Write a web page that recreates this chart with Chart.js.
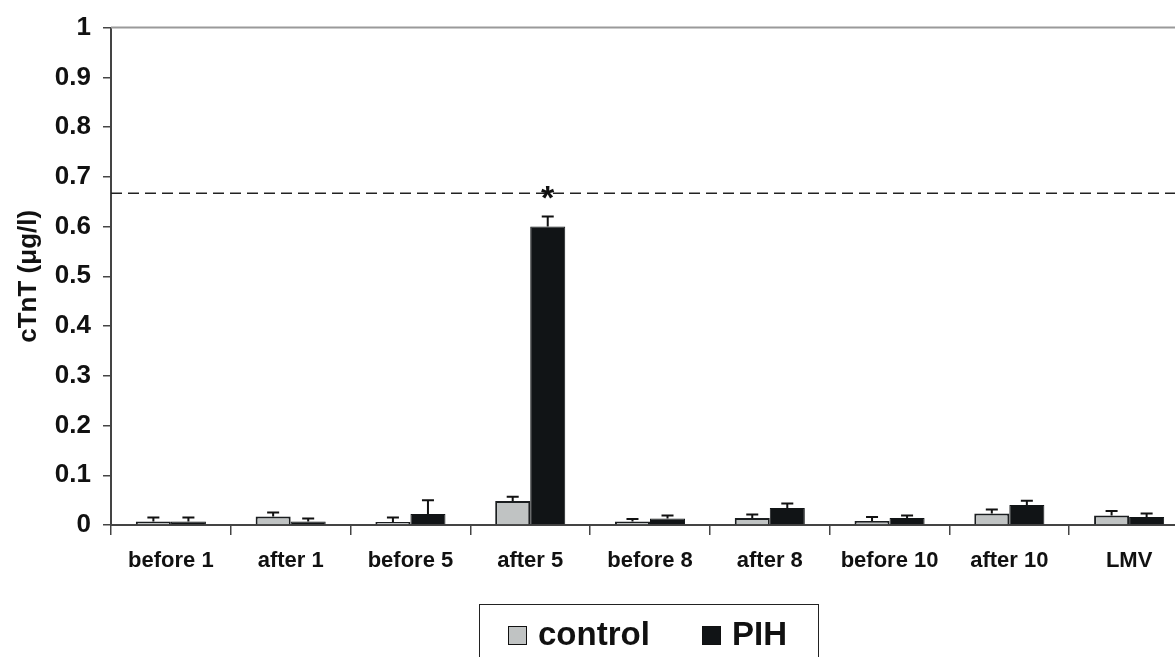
<!DOCTYPE html>
<html>
<head>
<meta charset="utf-8">
<script src="https://cdn.jsdelivr.net/npm/chart.js@4"></script>
<style>
  body { margin: 0; background: #fff; overflow: hidden; }
  #wrap { position: relative; width: 1175px; height: 657px; overflow: hidden; }
  #legend {
    position: absolute; left: 479px; top: 604px; width: 340px; height: 80px;
    border: 1px solid #222; box-sizing: border-box;
    font: bold 33px "Liberation Sans", Arial, sans-serif; color: #111;
  }
  #legend span.item { position: absolute; top: 10px; white-space: nowrap; }
  #legend i { display: inline-block; width: 17px; height: 17px; border: 1px solid #111; margin-right: 11px; vertical-align: 0px; }
</style>
</head>
<body>
<div id="wrap">
  <canvas id="chart" width="1190" height="657"></canvas>
  <div id="legend">
    <span class="item" style="left:28px"><i style="background:#c0c3c3"></i>control</span>
    <span class="item" style="left:222px"><i style="background:#111416"></i>PIH</span>
  </div>
</div>
<script>
// dados
const categorias = ["before 1", "after 1", "before 5", "after 5", "before 8", "after 8", "before 10", "after 10", "LMV"];
const controle = [0.007, 0.017, 0.006, 0.048, 0.007, 0.014, 0.008, 0.023, 0.019];
const controleErro = [0.008, 0.008, 0.009, 0.009, 0.005, 0.007, 0.008, 0.008, 0.009];
const pih = [0.007, 0.007, 0.022, 0.600, 0.013, 0.034, 0.014, 0.040, 0.016];
const pihErro = [0.008, 0.006, 0.028, 0.020, 0.006, 0.009, 0.005, 0.009, 0.007];
const limite = 0.667;

const fonte = '"Liberation Sans", Arial, sans-serif';

// barras de erro, linha tracejada e asterisco
const extras = {
  id: "extras",
  afterDatasetsDraw(chart) {
    const ctx = chart.ctx;
    const y = chart.scales.y;
    const area = chart.chartArea;
    ctx.save();

    // borda de cima
    ctx.strokeStyle = "#9a9a9a";
    ctx.lineWidth = 2;
    ctx.beginPath();
    ctx.moveTo(area.left, area.top);
    ctx.lineTo(chart.width, area.top);
    ctx.stroke();

    // linha tracejada
    const yl = y.getPixelForValue(limite);
    ctx.strokeStyle = "#222";
    ctx.lineWidth = 1.6;
    ctx.setLineDash([11, 6]);
    ctx.beginPath();
    ctx.moveTo(area.left, yl);
    ctx.lineTo(chart.width, yl);
    ctx.stroke();
    ctx.setLineDash([]);

    // erros
    const erros = [controleErro, pihErro];
    const valores = [controle, pih];
    ctx.strokeStyle = "#111";
    ctx.lineWidth = 2;
    chart.data.datasets.forEach((ds, i) => {
      chart.getDatasetMeta(i).data.forEach((bar, j) => {
        const top = y.getPixelForValue(valores[i][j] + erros[i][j]);
        ctx.beginPath();
        ctx.moveTo(bar.x, bar.y);
        ctx.lineTo(bar.x, top);
        ctx.moveTo(bar.x - 6, top);
        ctx.lineTo(bar.x + 6, top);
        ctx.stroke();
      });
    });

    // asterisco
    const barra = chart.getDatasetMeta(1).data[3];
    ctx.fillStyle = "#111";
    ctx.font = "bold 34px " + fonte;
    ctx.textAlign = "center";
    ctx.textBaseline = "middle";
    ctx.fillText("*", barra.x, yl + 6);
    ctx.restore();
  }
};

new Chart(document.getElementById("chart"),
{
  type: "bar",
  data:
  {
    labels: categorias,
    datasets: [
    {
      label: "control",
      data: controle,
      backgroundColor: "#c0c3c3",
      borderColor: "#1b1e20",
      borderWidth: 2,
      categoryPercentage: 0.585,
      barPercentage: 1
    },
    {
      label: "PIH",
      data: pih,
      backgroundColor: "#111416",
      borderColor: "#111416",
      borderWidth: 1,
      categoryPercentage: 0.585,
      barPercentage: 1
    }]
  },
  options:
  {
    responsive: false,
    animation: false,
    devicePixelRatio: 1,
    layout: { padding: { top: 25, right: 1, left: 0, bottom: 0 } },
    plugins:
    {
      legend: { display: false },
      tooltip: { enabled: false }
    },
    scales:
    {
      x:
      {
        grid: { drawOnChartArea: false, drawTicks: true, tickLength: 10, color: "#444", lineWidth: 1.5 },
        border: { color: "#444", width: 2 },
        ticks: { color: "#111", font: { family: fonte, size: 22, weight: "bold" }, padding: 13, maxRotation: 0 },
        afterFit(scale) { scale.height = 132; }
      },
      y:
      {
        min: 0,
        max: 1,
        grid: { drawOnChartArea: false, drawTicks: true, tickLength: 8, color: "#444", lineWidth: 1.5 },
        border: { color: "#444", width: 2 },
        ticks:
        {
          stepSize: 0.1,
          color: "#111",
          padding: 12,
          font: { family: fonte, size: 26, weight: "bold" },
          callback: v => Math.round(v * 10) / 10
        },
        title:
        {
          display: true,
          text: "cTnT (μg/l)",
          color: "#111",
          font: { family: fonte, size: 26, weight: "bold" },
          padding: { top: 13, bottom: 0 }
        },
        afterFit(scale) { scale.width = 111; }
      }
    }
  },
  plugins: [extras]
});
</script>
</body>
</html>
